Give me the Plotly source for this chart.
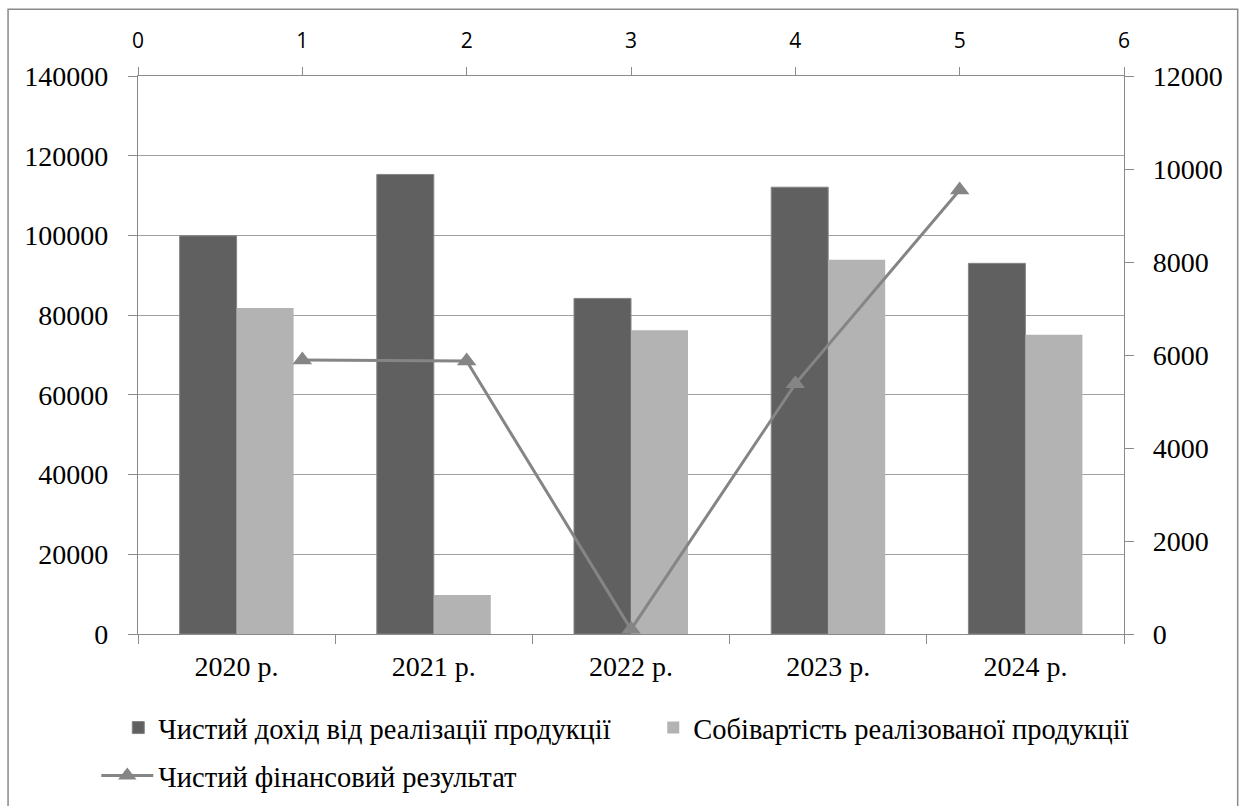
import plotly.graph_objects as go

years = ["2020 р.", "2021 р.", "2022 р.", "2023 р.", "2024 р."]
revenue = [99900, 115300, 84200, 112100, 93000]
cost = [81800, 9800, 76200, 93900, 75100]
result_x = [1, 2, 3, 4, 5]
result = [5890, 5870, 100, 5380, 9550]

name_rev = "Чистий дохід від реалізації продукції"
name_cost = "Собівартість реалізованої продукції"
name_res = "Чистий фінансовий результат"

left_ticks = list(range(0, 140001, 20000))
right_ticks = list(range(0, 12001, 2000))
top_ticks = list(range(0, 7))

SERIF = "Liberation Serif, serif"
SANS = "Open Sans, sans-serif"
AXIS = "#8a8a8a"

fig = go.Figure()
fig.add_trace(go.Bar(x=years, y=revenue, name=name_rev,
                     marker=dict(color="#606060", line=dict(color="#858585", width=1)),
                     legend="legend"))
fig.add_trace(go.Bar(x=years, y=cost, name=name_cost,
                     marker=dict(color="#b3b3b3", line=dict(width=0)),
                     legend="legend"))
fig.add_trace(go.Scatter(x=result_x, y=result, name=name_res, xaxis="x2", yaxis="y2",
                         mode="lines+markers",
                         line=dict(color="#858585", width=3),
                         marker=dict(symbol="triangle-up", size=17, color="#858585"),
                         cliponaxis=False, legend="legend2"))

fig.update_layout(
    template="none",
    width=1242, height=806,
    margin=dict(l=138, r=118, t=76, b=172, autoexpand=False),
    paper_bgcolor="white", plot_bgcolor="white",
    barmode="group", bargap=0.422, bargroupgap=0,
    font=dict(family=SERIF, size=28, color="black"),
    xaxis=dict(type="category", tickson="boundaries", ticks="outside", ticklen=9,
               tickcolor=AXIS, showline=True, linecolor=AXIS, linewidth=1.3,
               showgrid=False, tickfont=dict(family=SERIF, size=28, color="black"),
               ticklabelstandoff=7),
    yaxis=dict(range=[0, 140000], tickvals=left_ticks, ticks="outside", ticklen=9,
               tickcolor=AXIS, showline=True, linecolor=AXIS, linewidth=1.3,
               showgrid=True, gridcolor="#a0a0a0", gridwidth=1.3, zeroline=False,
               tickfont=dict(family=SERIF, size=28, color="black"), ticklabelstandoff=14,
               tickformat="d"),
    xaxis2=dict(overlaying="x", side="top", range=[0, 6], tickvals=top_ticks,
                ticks="outside", ticklen=8, tickcolor=AXIS, showline=True,
                linecolor=AXIS, linewidth=1.3, showgrid=False, zeroline=False,
                tickfont=dict(family=SANS, size=21, color="black"), ticklabelstandoff=10),
    yaxis2=dict(overlaying="y", side="right", range=[0, 12000], tickvals=right_ticks,
                ticks="outside", ticklen=9, tickcolor=AXIS, showline=True,
                linecolor=AXIS, linewidth=1.3, showgrid=False, zeroline=False,
                tickfont=dict(family=SERIF, size=28, color="black"), ticklabelstandoff=13,
                tickformat="d"),
    legend=dict(orientation="h", x=-0.02, xanchor="left", y=-0.1685, yanchor="middle",
                font=dict(family=SERIF, size=28.5, color="black"), bgcolor="rgba(0,0,0,0)",
                traceorder="normal", entrywidth=490, entrywidthmode="pixels"),
    legend2=dict(orientation="h", x=-0.0423, xanchor="left", y=-0.2545, yanchor="middle",
                 font=dict(family=SERIF, size=28.5, color="black"), bgcolor="rgba(0,0,0,0)",
                 itemwidth=52),
    shapes=[dict(type="rect", xref="paper", yref="paper",
                 x0=-0.1318, x1=1.1153, y0=-0.33, y1=1.1195,
                 line=dict(color="#8a8a8a", width=1.5), fillcolor="rgba(0,0,0,0)",
                 layer="below")],
)

fig.write_html("out.html")
